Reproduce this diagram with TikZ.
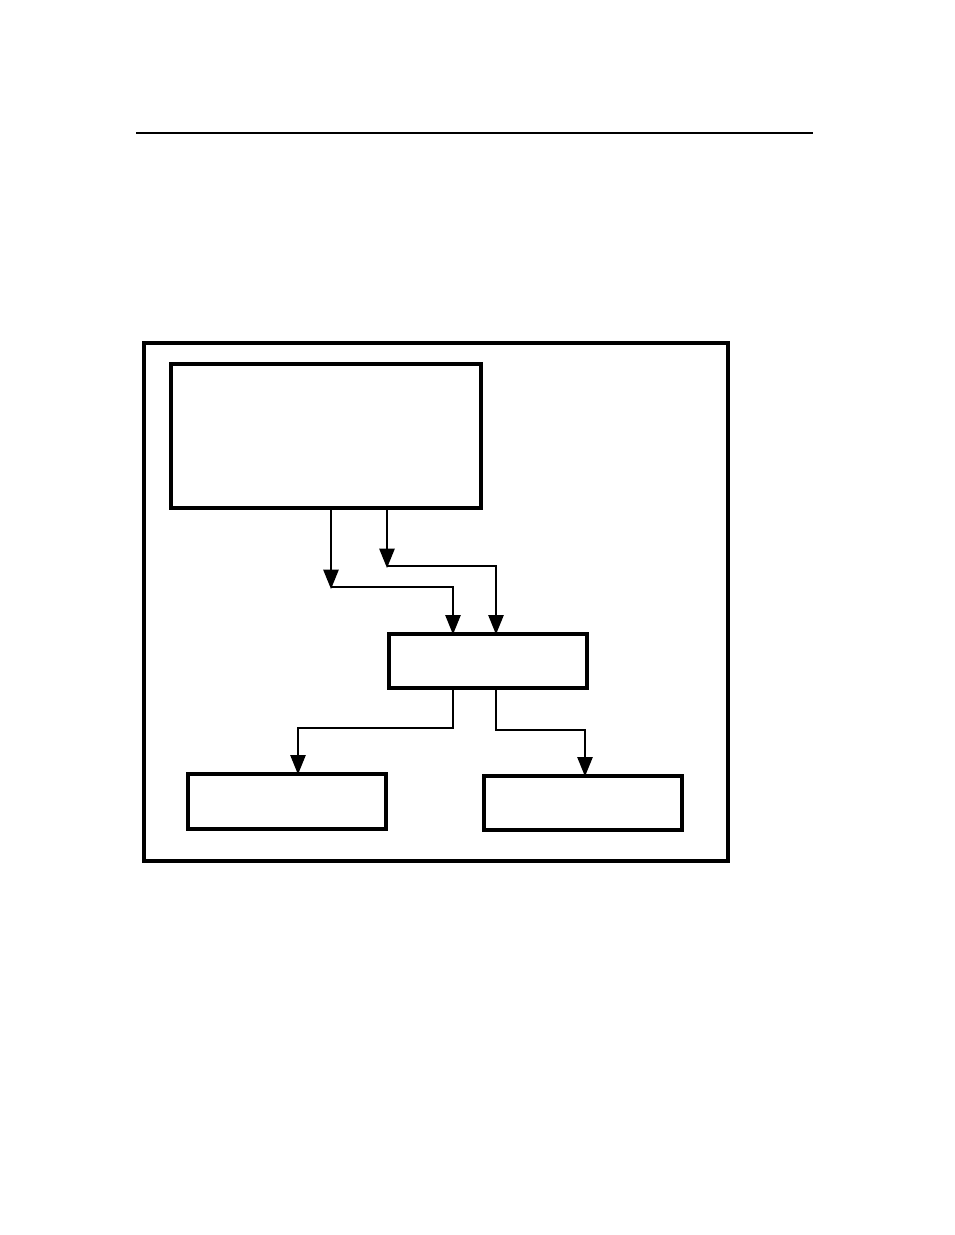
\documentclass[tikz,border=0pt]{standalone}
\usetikzlibrary{arrows.meta,fit}
\begin{document}
\begin{tikzpicture}[x=0.75pt,y=-0.75pt,
  boxstyle/.style={draw,line width=2.4pt,inner sep=0pt},
  framestyle/.style={draw,line width=3pt,inner sep=0pt},
  conn/.style={line width=1.1pt},
  arr/.style={conn,shorten >=-1.5pt,-{Triangle[width=11.5pt,length=14.5pt]}}]
\useasboundingbox (0,0) rectangle (954,1235);
% top rule
\coordinate (rl) at (136,133);
\coordinate (rr) at (813,133);
\draw[line width=1.1pt] (rl) -- (rr);
% frame
\node[framestyle,fit={(144,343) (728,861)}] (frame) {};
% boxes
\node[boxstyle,fit={(171,364) (481,508)}] (big) {};
\node[boxstyle,fit={(389,634) (587,688)}] (mid) {};
\node[boxstyle,fit={(188,774) (386,829)}] (bl) {};
\node[boxstyle,fit={(484,776) (682,830)}] (br) {};
% junction points
\coordinate (j1) at (331,587);
\coordinate (j2) at (387,566);
\coordinate (t1) at (453,634);
\coordinate (t2) at (496,634);
\coordinate (k1) at (453,728);
\coordinate (k2) at (496,730);
\coordinate (b1) at (298,774);
\coordinate (b2) at (585,776);
% connectors
\draw[arr] (big.south -| j1) -- (j1);
\draw[arr] (big.south -| j2) -- (j2);
\draw[arr] (j1) -| (mid.north -| t1);
\draw[arr] (j2) -| (mid.north -| t2);
\draw[arr] (mid.south -| k1) -- (k1) -| (bl.north -| b1);
\draw[arr] (mid.south -| k2) -- (k2) -| (br.north -| b2);
\end{tikzpicture}
\end{document}
